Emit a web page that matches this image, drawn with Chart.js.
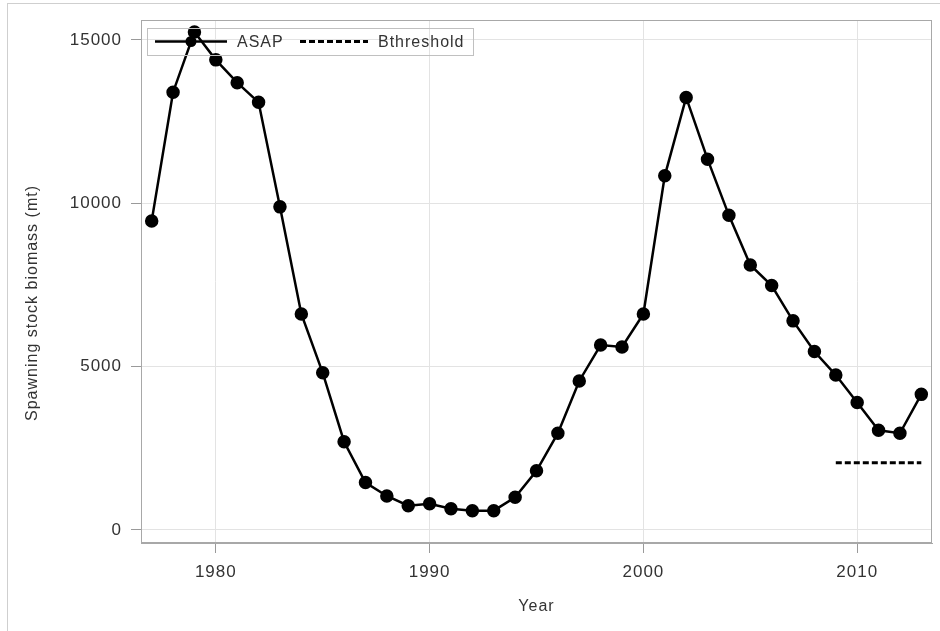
<!DOCTYPE html>
<html>
<head>
<meta charset="utf-8">
<script src="https://cdn.jsdelivr.net/npm/chart.js@4"></script>
<style>
  body { margin: 0; background: #fff; }
  #wrap { position: relative; width: 940px; height: 631px; }
  #frame { position: absolute; left: 7px; top: 3px; right: 0; bottom: 0; border-left: 1px solid #cfcfcf; border-top: 1px solid #cfcfcf; pointer-events: none; }
</style>
</head>
<body>
<div id="wrap">
  <canvas id="chart" width="940" height="631"></canvas>
  <div id="frame"></div>
</div>
<script>
const years = [1977, 1978, 1979, 1980, 1981, 1982, 1983, 1984, 1985, 1986, 1987, 1988, 1989,
  1990, 1991, 1992, 1993, 1994, 1995, 1996, 1997, 1998, 1999, 2000, 2001, 2002, 2003, 2004,
  2005, 2006, 2007, 2008, 2009, 2010, 2011, 2012, 2013];
const asap = [9460, 13400, 15240, 14390, 13690, 13090, 9890, 6610, 4810, 2700, 1450, 1040, 740,
  800, 650, 590, 590, 1000, 1810, 2960, 4560, 5660, 5600, 6610, 10840, 13240, 11350, 9630,
  8110, 7480, 6400, 5460, 4740, 3900, 3050, 2960, 4150];
const bthreshYears = [2009, 2013];
const bthreshValues = [2060, 2060];
const xTicks = [1980, 1990, 2000, 2010];
const yTicks = [0, 5000, 10000, 15000];
const yTitle = "Spawning stock biomass (mt)";

const FONT = "'Liberation Sans', Arial, sans-serif";
const TEXT = "#333333";

// SAS text is a bit more spaced out than Arial
const spacing = {
  id: "spacing",
  beforeLayout(chart) { chart.ctx.letterSpacing = "1px"; },
  beforeDraw(chart) { chart.ctx.letterSpacing = "1px"; }
};

// box around plot, y title, legend
const framePlugin = {
  id: "framePlugin",
  afterDraw(chart) {
    const { ctx, chartArea: a } = chart;
    ctx.save();
    ctx.strokeStyle = "#a8a8a8";
    ctx.lineWidth = 1;
    ctx.strokeRect(a.left + 0.5, a.top + 0.5, a.right - a.left - 1, a.bottom - a.top - 1);

    ctx.font = "16px " + FONT;
    ctx.fillStyle = TEXT;
    ctx.save();
    ctx.translate(33, 303);
    ctx.rotate(-Math.PI / 2);
    ctx.textAlign = "center";
    ctx.textBaseline = "middle";
    ctx.fillText(yTitle, 0, 0);
    ctx.restore();

    // legend
    const lx = a.left + 6, ly = a.top + 8, lw = 326, lh = 27, cy = ly + lh / 2;
    ctx.strokeStyle = "#c0c0c0";
    ctx.strokeRect(lx + 0.5, ly + 0.5, lw, lh);
    ctx.strokeStyle = "#000";
    ctx.lineWidth = 2.5;
    ctx.beginPath();
    ctx.moveTo(lx + 8, cy);
    ctx.lineTo(lx + 80, cy);
    ctx.stroke();
    ctx.fillStyle = "#000";
    ctx.beginPath();
    ctx.arc(lx + 44, cy, 5.5, 0, Math.PI * 2);
    ctx.fill();
    ctx.setLineDash([6, 3]);
    ctx.lineWidth = 3;
    ctx.beginPath();
    ctx.moveTo(lx + 153, cy);
    ctx.lineTo(lx + 221, cy);
    ctx.stroke();
    ctx.setLineDash([]);
    ctx.fillStyle = TEXT;
    ctx.textBaseline = "middle";
    ctx.fillText("ASAP", lx + 90, cy + 1);
    ctx.fillText("Bthreshold", lx + 231, cy + 1);
    ctx.restore();
  }
};

const ctx = document.getElementById("chart").getContext("2d");
new Chart(ctx, {
  type: "line",
  data: {
    datasets: [{
      label: "ASAP",
      data: years.map((y, i) => ({ x: y, y: asap[i] })),
      borderColor: "#000",
      backgroundColor: "#000",
      borderWidth: 2.5,
      pointRadius: 5.5,
      pointHoverRadius: 5.5,
      pointBackgroundColor: "#000",
      tension: 0
    }, {
      label: "Bthreshold",
      data: bthreshYears.map((y, i) => ({ x: y, y: bthreshValues[i] })),
      borderColor: "#000",
      borderWidth: 3,
      borderDash: [6, 3],
      pointRadius: 0,
      tension: 0
    }]
  },
  options: {
    responsive: false,
    animation: false,
    layout: { padding: { left: 0, top: 20, right: 7, bottom: 0 } },
    plugins: { legend: { display: false }, tooltip: { enabled: false } },
    scales: {
      x: {
        type: "linear",
        min: 1976.5,
        max: 2013.5,
        afterBuildTicks: s => { s.ticks = xTicks.map(v => ({ value: v })); },
        afterFit: s => { s.height = 88; },
        grid: { color: "#e3e3e3", tickColor: "#9a9a9a", tickLength: 10 },
        border: { color: "#a8a8a8" },
        ticks: { color: TEXT, font: { family: FONT, size: 17 }, padding: 9, maxRotation: 0, callback: v => String(v) },
        title: { display: true, text: "Year", color: TEXT, font: { family: FONT, size: 16 }, padding: { top: 4, bottom: 15 } }
      },
      y: {
        min: -400,
        max: 15610,
        afterBuildTicks: s => { s.ticks = yTicks.map(v => ({ value: v })); },
        afterFit: s => { s.width = 141; },
        grid: { color: "#e3e3e3", tickColor: "#9a9a9a", tickLength: 10 },
        border: { color: "#a8a8a8" },
        ticks: { color: TEXT, font: { family: FONT, size: 17 }, padding: 9, callback: v => String(v) },
        title: { display: false }
      }
    }
  },
  plugins: [spacing, framePlugin]
});
</script>
</body>
</html>
